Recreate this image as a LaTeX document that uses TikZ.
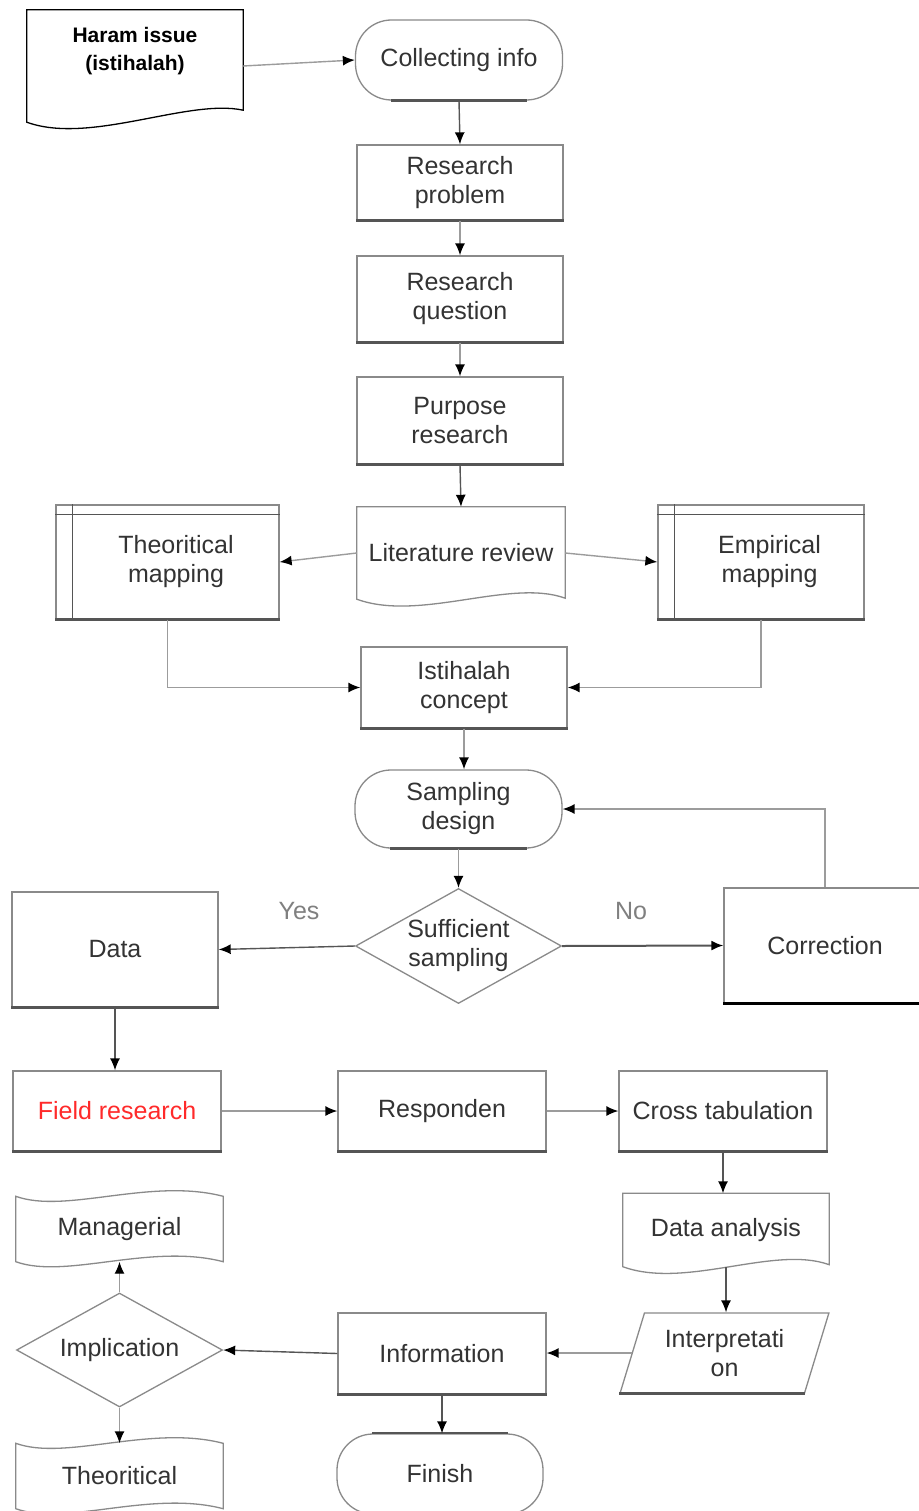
\documentclass[tikz,border=0pt]{standalone}
\usepackage{fontspec}
\setmainfont{Liberation Sans}
\usepackage{xcolor}
\usepackage{tikz}
\usetikzlibrary{shapes.geometric, calc, arrows.meta}

\definecolor{boxline}{HTML}{8A8A8A}
\definecolor{edgeline}{HTML}{555555}
\definecolor{connline}{HTML}{9C9C9C}
\definecolor{txtgray}{HTML}{333333}
\definecolor{fieldred}{HTML}{FF2A2A}

\begin{document}
\begin{tikzpicture}[x=1pt, y=-1pt,
	every node/.style={font=\fontsize{25}{29}\selectfont, text=txtgray, align=center, inner sep=0pt},
	box/.style={draw=boxline, line width=1.3pt, rectangle, minimum width=206pt, minimum height=80pt},
	pill/.style={box, rounded corners=36pt, minimum height=78pt},
	paper/.style={minimum width=208pt},
	choice/.style={draw=boxline, line width=1.3pt, diamond, aspect=1.8, minimum width=206pt, minimum height=115pt},
	slant/.style={draw=boxline, line width=1.3pt, trapezium, trapezium left angle=69, trapezium right angle=111, trapezium stretches=true, minimum width=209pt, minimum height=80pt},
	conn/.style={draw=connline, line width=1.4pt, -{Latex[length=12pt, width=10pt, black]}},
	lbl/.style={text=gray}
]

			\fill [white] (0,0) rectangle (918,1511);
			\useasboundingbox (0,0) rectangle (918,1511);

			% top column
			\node [minimum width=216pt, minimum height=112pt] (haram) at (135,66) {\parbox[c][112pt][t]{210pt}{\vspace*{17pt}\centering\bfseries\color{black}\fontsize{21}{28}\selectfont Haram issue\\(istihalah)}};
			\node [pill, minimum width=207pt, minimum height=80pt] (collect) at (459,60) {Collecting info};
			\node [box, minimum height=75pt] (resprob) at (460,182.5) {Research\\problem};
			\node [box, minimum height=86pt] (resq) at (460,299) {Research\\question};
			\node [box, minimum height=87pt] (purpose) at (460,420.5) {Purpose\\research};
			\node [paper, minimum height=92pt] (litrev) at (461,553) {Literature review};
			\node [box, minimum width=223pt, minimum height=114pt] (theomap) at (167.5,562) {\hspace*{17pt}\begin{tabular}{@{}c@{}}Theoritical\\mapping\end{tabular}};
			\node [box, minimum height=114pt] (empmap) at (761,562) {\hspace*{17pt}\begin{tabular}{@{}c@{}}Empirical\\mapping\end{tabular}};
			\node [box, minimum height=81pt] (istih) at (464,687.5) {Istihalah\\concept};
			\node [pill, minimum width=207pt] (samp) at (458.5,809) {Sampling\\design};
			\node [choice] (suff) at (458.5,946) {Sufficient\\sampling};
			\node [box, minimum height=115pt] (data) at (115,949.5) {Data};
			\node [box, minimum width=202pt, minimum height=115pt] (corr) at (825,945.5) {Correction};
			\node [lbl] (yes) at (299,911) {Yes};
			\node [lbl] (no) at (631,911) {No};

			% bottom part
			\node [box, minimum width=208pt] (field) at (117,1111) {\textcolor{fieldred}{Field research}};
			\node [box, minimum width=208pt] (resp) at (442,1111) {Responden};
			\node [box, minimum width=208pt] (cross) at (723,1111) {Cross tabulation};
			\node [paper, minimum width=206pt, minimum height=73pt] (dataana) at (726,1230) {Data analysis};
			\node [slant] (interp) at (724.5,1353) {Interpretati\\on};
			\node [box, minimum width=208pt, minimum height=81pt] (info) at (442,1353.5) {Information};
			\node [choice, minimum height=114pt] (impl) at (119.5,1350) {Implication};
			\node [minimum width=207pt, minimum height=65pt] (manag) at (119.5,1229) {Managerial};
			\node [minimum width=207pt, minimum height=65pt] (theor) at (119.5,1476) {Theoritical};
			\node [pill, minimum width=206pt, minimum height=80pt] (finish) at (440,1474) {Finish};

			% outlines of the paper and tape shapes
			\draw [black, line width=1.3pt] (haram.north west) -- (haram.north east) -- ($(haram.south east)+(0,-12)$) .. controls +(-55,-12) and +(63,23) .. (haram.south west) -- cycle;
			\foreach \n/\lift in {litrev/1, dataana/2}
				\draw [boxline, line width=1.3pt] (\n.north west) -- (\n.north east) -- ($(\n.south east)+(0,-\lift)$) .. controls +(-55,-20) and +(63,23) .. (\n.south west) -- cycle;
			\foreach \n in {manag, theor}
				\draw [boxline, line width=1.3pt] (\n.north west) .. controls +(50,18) and +(-73,-19) .. (\n.north east) -- (\n.south east) .. controls +(-73,-19) and +(50,18) .. (\n.south west) -- cycle;
			\foreach \n in {theomap, empmap}
			{
				\draw [edgeline, line width=1.3pt] ($(\n.north west)+(17,0)$) -- ($(\n.south west)+(17,0)$);
				\draw [edgeline, line width=1.3pt] ($(\n.north west)+(0,10)$) -- ($(\n.north east)+(0,10)$);
			}

			% darker bottom edges
			\foreach \n in {resprob, resq, purpose, theomap, empmap, istih, data, field, resp, cross, info}
				\draw [edgeline, line width=2.4pt] (\n.south west) -- (\n.south east);
			\draw [black, line width=2.6pt] (corr.south west) -- (corr.south east);
			\draw [edgeline, line width=2.4pt] (interp.bottom left corner) -- (interp.bottom right corner);
			\foreach \n in {collect, samp}
				\draw [edgeline, line width=2.4pt] ($(\n.south west)+(36,0)$) -- ($(\n.south east)+(-36,0)$);
			\draw [edgeline, line width=2pt] ($(finish.north west)+(36,0)$) -- ($(finish.north east)+(-36,0)$);

			% connectors
			\draw [conn] (haram.east) -- (collect.west);
			\draw [conn, draw=edgeline] (collect.south) -- (resprob.north);
			\draw [conn] (resprob.south) -- (resq.north);
			\draw [conn] (resq.south) -- (purpose.north);
			\draw [conn, draw=edgeline] (purpose.south) -- (litrev.north);
			\draw [conn] (litrev.west) -- (theomap.east);
			\draw [conn] (litrev.east) -- (empmap.west);
			\draw [conn] (theomap.south) |- (istih.west);
			\draw [conn] (empmap.south) |- (istih.east);
			\draw [conn] (istih.south) -- (istih.south |- samp.north);
			\draw [conn] (samp.south) -- (suff.north);
			\draw [conn, draw=edgeline] (suff.west) -- (data.east);
			\draw [conn, draw=edgeline, line width=2pt] (suff.east) -- (corr.west);
			\draw [conn] (corr.north) |- (samp.east);
			\draw [conn, draw=edgeline] (data.south) -- (data.south |- field.north);
			\draw [conn] (field.east) -- (resp.west);
			\draw [conn] (resp.east) -- (cross.west);
			\draw [conn, draw=edgeline] (cross.south) -- (cross.south |- dataana.north);
			\draw [conn, draw=edgeline] (dataana.south) -- (dataana.south |- interp.north);
			\draw [conn] (interp.west) -- (interp.west -| info.east);
			\draw [conn, draw=edgeline] (info.west) -- (impl.east);
			\draw [conn] (impl.north) -- (manag.south);
			\draw [conn] (impl.south) -- (theor.north);
			\draw [conn, draw=edgeline] (info.south) -- (info.south |- finish.north);
			\end{tikzpicture}
\end{document}
